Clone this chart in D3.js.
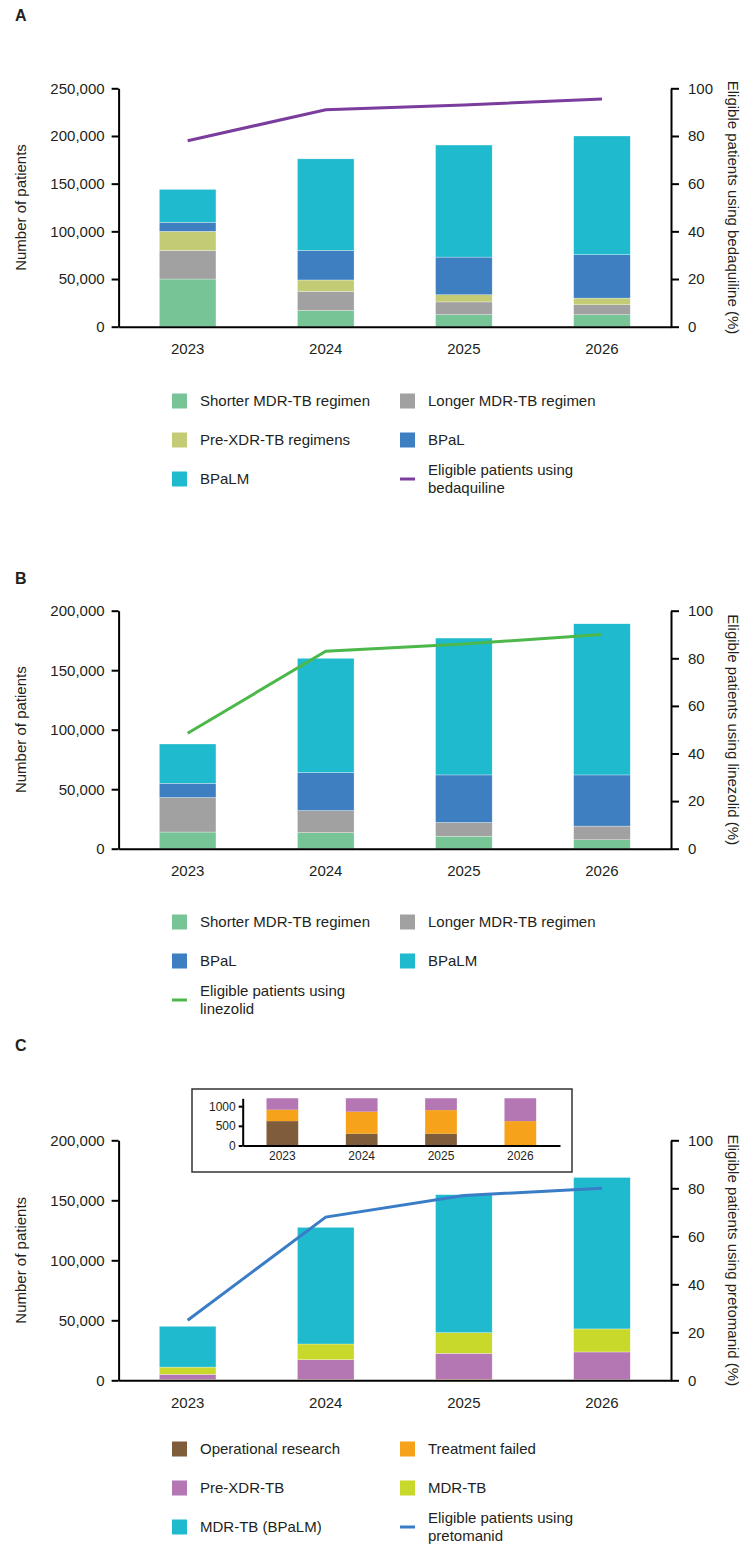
<!DOCTYPE html>
<html>
<head>
<meta charset="utf-8">
<script src="https://cdn.jsdelivr.net/npm/d3@7"></script>
<style>
  body { margin: 0; background: #fff; }
  svg text { font-family: "Liberation Sans", Arial, sans-serif; fill: #231f20; }
</style>
</head>
<body>
<div id="chart"></div>
<script>
const years = ["2023", "2024", "2025", "2026"];

// Panel A - bedaquiline
const aShorter = [50000, 17000, 12600, 12600];
const aLonger = [30000, 20000, 13400, 10400];
const aPreXdr = [20000, 12000, 7500, 7000];
const aBpal = [9500, 31000, 39500, 45500];
const aBpalm = [34500, 96000, 117500, 124500];
const aBedaquiline = [78, 91, 93, 95.5];

// Panel B - linezolid
const bShorter = [14000, 13500, 10500, 7500];
const bLonger = [29000, 18500, 11500, 11500];
const bBpal = [12000, 32000, 40000, 43000];
const bBpalm = [33000, 96000, 115000, 127000];
const bLinezolid = [48.5, 83, 86, 90];

// Panel C - pretomanid
const cOperational = [620, 300, 300, 0];
const cFailed = [290, 560, 600, 620];
const cPreXdr = [4100, 16300, 21600, 23000];
const cMdr = [6000, 13100, 17200, 19200];
const cBpalm = [34000, 97200, 115000, 126200];
const cPretomanid = [25, 68, 77, 80];

const leftTicksA = [0, 50000, 100000, 150000, 200000, 250000];
const leftTicksBC = [0, 50000, 100000, 150000, 200000];
const rightTicks = [0, 20, 40, 60, 80, 100];
const insetTicks = [0, 500, 1000];

const col = {
  shorter: "#77c496", longer: "#a1a1a1", prexdrReg: "#c3cb74",
  bpal: "#3d7fc1", bpalm: "#1fbace",
  oper: "#7f5c3a", failed: "#f7a21b", prexdr: "#b577b3", mdr: "#c8d92b",
  bedaq: "#7a3d9d", linez: "#4db84a", preto: "#3a7dc6"
};

const svg = d3.select("#chart").append("svg")
  .attr("width", 744).attr("height", 1544);

const x0 = 118.6, x1 = 671;

function styleAxis(g, fs) {
  g.selectAll("path, line").attr("stroke", "#000").attr("stroke-width", 2);
  g.selectAll("text").style("font-size", fs + "px").attr("fill", "#231f20");
}

function drawPanel(o) {
  const g = svg.append("g");
  const x = d3.scaleBand().domain(years).range([x0, x1]).paddingInner(0.59).paddingOuter(0.295);
  const y = d3.scaleLinear().domain([0, o.yMax]).range([o.bottom, o.top]);
  const y2 = d3.scaleLinear().domain([0, 100]).range([o.bottom, o.top]);

  const keys = o.series.map(s => s.key);
  const rows = years.map((yr, i) => {
    const r = {year: yr};
    o.series.forEach(s => r[s.key] = s.values[i]);
    return r;
  });
  const stacked = d3.stack().keys(keys)(rows);

  g.append("g").selectAll("g")
    .data(stacked)
    .join("g")
    .attr("fill", d => o.series.find(s => s.key === d.key).color)
    .selectAll("rect")
    .data(d => d)
    .join("rect")
    .attr("x", d => x(d.data.year))
    .attr("width", x.bandwidth())
    .attr("y", d => y(d[1]))
    .attr("height", d => Math.max(0, y(d[0]) - y(d[1])))
    .attr("stroke", "#fff").attr("stroke-width", 0.5).attr("stroke-opacity", 0.6);

  const line = d3.line().x((d, i) => x(years[i]) + x.bandwidth() / 2).y(d => y2(d));
  g.append("path").attr("d", line(o.line))
    .attr("fill", "none").attr("stroke", o.lineColor).attr("stroke-width", 3);

  g.append("g").attr("transform", `translate(${x0},0)`)
    .call(d3.axisLeft(y).tickValues(o.leftTicks).tickFormat(d3.format(",")).tickSize(7).tickPadding(7).tickSizeOuter(0))
    .call(a => styleAxis(a, 15));
  g.append("g").attr("transform", `translate(${x1},0)`)
    .call(d3.axisRight(y2).tickValues(rightTicks).tickSize(8).tickPadding(9).tickSizeOuter(0))
    .call(a => styleAxis(a, 15));
  g.append("g").attr("transform", `translate(0,${o.bottom})`)
    .call(d3.axisBottom(x).tickSize(0).tickPadding(17).tickSizeOuter(0))
    .call(a => styleAxis(a, 15));

  const cy = (o.top + o.bottom) / 2;
  g.append("text").attr("transform", `translate(21,${cy}) rotate(-90)`)
    .attr("text-anchor", "middle").attr("dy", "0.35em").style("font-size", "15px")
    .text("Number of patients");
  g.append("text").attr("transform", `translate(733,${cy}) rotate(90)`)
    .attr("text-anchor", "middle").attr("dy", "0.35em").style("font-size", "15px")
    .text(o.rightTitle);

  g.append("text").attr("x", 15).attr("y", o.letterY)
    .style("font-size", "16px").style("font-weight", "bold").text(o.letter);

  // legend, two columns filled row by row
  const colX = [172, 400];
  o.legend.forEach((it, i) => {
    const lx = colX[i % 2], ly = o.legendY + Math.floor(i / 2) * 39;
    if (it.type === "line") {
      g.append("line").attr("x1", lx).attr("x2", lx + 15).attr("y1", ly).attr("y2", ly)
        .attr("stroke", it.color).attr("stroke-width", 3);
    } else {
      g.append("rect").attr("x", lx).attr("y", ly - 7.5).attr("width", 15).attr("height", 15)
        .attr("fill", it.color);
    }
    const lines = it.label.split("|");
    lines.forEach((t, j) => {
      g.append("text").attr("x", lx + 28)
        .attr("y", ly + (j - (lines.length - 1) / 2) * 18)
        .attr("dy", "0.35em").style("font-size", "15px").text(t);
    });
  });
  return {x, y};
}

drawPanel({
  top: 88.3, bottom: 326.7, yMax: 250000, leftTicks: leftTicksA,
  series: [
    {key: "shorter", values: aShorter, color: col.shorter},
    {key: "longer", values: aLonger, color: col.longer},
    {key: "prexdr", values: aPreXdr, color: col.prexdrReg},
    {key: "bpal", values: aBpal, color: col.bpal},
    {key: "bpalm", values: aBpalm, color: col.bpalm}
  ],
  line: aBedaquiline, lineColor: col.bedaq,
  rightTitle: "Eligible patients using bedaquiline (%)",
  letter: "A", letterY: 21, legendY: 401,
  legend: [
    {label: "Shorter MDR-TB regimen", color: col.shorter},
    {label: "Longer MDR-TB regimen", color: col.longer},
    {label: "Pre-XDR-TB regimens", color: col.prexdrReg},
    {label: "BPaL", color: col.bpal},
    {label: "BPaLM", color: col.bpalm},
    {label: "Eligible patients using|bedaquiline", color: col.bedaq, type: "line"}
  ]
});

drawPanel({
  top: 610.7, bottom: 848.7, yMax: 200000, leftTicks: leftTicksBC,
  series: [
    {key: "shorter", values: bShorter, color: col.shorter},
    {key: "longer", values: bLonger, color: col.longer},
    {key: "bpal", values: bBpal, color: col.bpal},
    {key: "bpalm", values: bBpalm, color: col.bpalm}
  ],
  line: bLinezolid, lineColor: col.linez,
  rightTitle: "Eligible patients using linezolid (%)",
  letter: "B", letterY: 584, legendY: 922,
  legend: [
    {label: "Shorter MDR-TB regimen", color: col.shorter},
    {label: "Longer MDR-TB regimen", color: col.longer},
    {label: "BPaL", color: col.bpal},
    {label: "BPaLM", color: col.bpalm},
    {label: "Eligible patients using|linezolid", color: col.linez, type: "line"}
  ]
});

const cSeries = [
  {key: "oper", values: cOperational, color: col.oper},
  {key: "failed", values: cFailed, color: col.failed},
  {key: "prexdr", values: cPreXdr, color: col.prexdr},
  {key: "mdr", values: cMdr, color: col.mdr},
  {key: "bpalm", values: cBpalm, color: col.bpalm}
];

drawPanel({
  top: 1140.3, bottom: 1380.3, yMax: 200000, leftTicks: leftTicksBC,
  series: cSeries,
  line: cPretomanid, lineColor: col.preto,
  rightTitle: "Eligible patients using pretomanid (%)",
  letter: "C", letterY: 1051, legendY: 1449,
  legend: [
    {label: "Operational research", color: col.oper},
    {label: "Treatment failed", color: col.failed},
    {label: "Pre-XDR-TB", color: col.prexdr},
    {label: "MDR-TB", color: col.mdr},
    {label: "MDR-TB (BPaLM)", color: col.bpalm},
    {label: "Eligible patients using|pretomanid", color: col.preto, type: "line"}
  ]
});

// Inset: bottom of panel C bars, cut at 1200
const inset = svg.append("g");
inset.append("rect").attr("x", 192).attr("y", 1089).attr("width", 380).attr("height", 83)
  .attr("fill", "#fff").attr("stroke", "#333").attr("stroke-width", 1.5);
const ix = d3.scaleBand().domain(years).range([242.7, 560]).paddingInner(0.6).paddingOuter(0.3);
const iy = d3.scaleLinear().domain([0, 1200]).range([1145.5, 1098.3]);
inset.append("clipPath").attr("id", "insetClip")
  .append("rect").attr("x", 242.7).attr("y", iy(1200)).attr("width", 320).attr("height", iy(0) - iy(1200));
const iRows = years.map((yr, i) => {
  const r = {year: yr};
  cSeries.slice(0, 3).forEach(s => r[s.key] = s.values[i]);
  return r;
});
const iStack = d3.stack().keys(["oper", "failed", "prexdr"])(iRows);
inset.append("g").attr("clip-path", "url(#insetClip)")
  .selectAll("g").data(iStack).join("g")
  .attr("fill", d => cSeries.find(s => s.key === d.key).color)
  .selectAll("rect").data(d => d).join("rect")
  .attr("x", d => ix(d.data.year)).attr("width", ix.bandwidth())
  .attr("y", d => iy(d[1])).attr("height", d => Math.max(0, iy(d[0]) - iy(d[1])));
inset.append("g").attr("transform", "translate(242.7,0)")
  .call(d3.axisLeft(iy).tickValues(insetTicks).tickFormat(d3.format("d")).tickSize(4).tickPadding(3).tickSizeOuter(0))
  .call(a => styleAxis(a, 12));
inset.append("g").attr("transform", `translate(0,${iy(0)})`)
  .call(d3.axisBottom(ix).tickSize(0).tickPadding(6).tickSizeOuter(0))
  .call(a => styleAxis(a, 12));
</script>
</body>
</html>
